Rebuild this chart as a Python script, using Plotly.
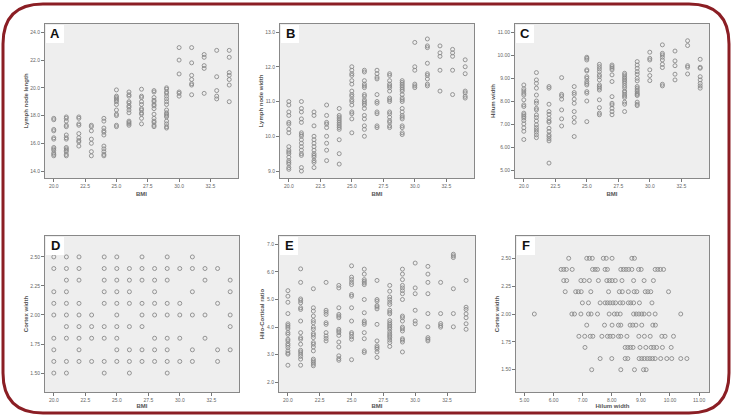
import plotly.graph_objects as go

# ---------------- data ----------------
bmi_levels = [20, 21, 22, 23, 24, 25, 26, 27, 28, 29, 30, 31, 32, 33, 34]

lymph_length = [
    [17.8, 17.7, 17.0, 16.9, 16.4, 16.3, 15.7, 15.6, 15.5, 15.3, 15.2, 15.1],
    [17.9, 17.8, 17.6, 17.3, 17.2, 16.6, 16.4, 16.3, 15.7, 15.6, 15.5, 15.4, 15.2, 15.1],
    [17.9, 17.8, 17.4, 17.3, 16.7, 16.4, 16.2, 16.1, 15.8],
    [17.3, 17.2, 16.9, 16.3, 16.0, 15.4, 15.1],
    [17.8, 17.6, 17.1, 16.9, 16.8, 16.6, 15.8, 15.6, 15.4, 15.2, 15.1],
    [19.85, 19.4, 19.3, 19.2, 19.1, 19.0, 18.8, 18.4, 18.1, 18.0, 17.3, 17.2],
    [19.7, 19.5, 19.4, 19.0, 18.9, 18.7, 18.6, 18.4, 18.2, 17.6, 17.5, 17.4, 17.3],
    [19.9, 19.4, 19.3, 19.0, 18.8, 18.5, 18.4, 18.2, 18.1, 17.8, 17.4],
    [19.8, 19.7, 19.3, 19.1, 19.0, 18.8, 18.7, 18.5, 18.1, 17.8, 17.6, 17.5, 17.3, 17.2],
    [20.0, 19.9, 19.7, 19.6, 19.4, 19.2, 19.0, 18.8, 18.4, 18.2, 18.1, 18.0, 17.9, 17.6, 17.4, 17.2, 17.1],
    [22.9, 22.0, 21.0, 19.7, 19.6, 19.4],
    [22.9, 21.8, 20.9, 20.6, 20.3, 20.2, 19.5],
    [22.4, 22.2, 21.6, 21.4, 19.6],
    [22.7, 20.8, 19.8, 19.4, 19.2],
    [22.7, 22.2, 21.1, 20.9, 20.6, 20.2, 19.0],
]

lymph_width = [
    [11.0, 10.9, 10.7, 10.6, 10.4, 10.35, 10.2, 10.1, 9.7, 9.6, 9.55, 9.5, 9.4, 9.3, 9.25, 9.2, 9.1, 9.05],
    [11.0, 10.8, 10.7, 10.5, 10.4, 10.1, 10.05, 10.0, 9.9, 9.8, 9.7, 9.6, 9.5, 9.45, 9.1, 9.0],
    [10.7, 10.6, 10.3, 10.0, 9.9, 9.8, 9.7, 9.6, 9.5, 9.45, 9.4, 9.3, 9.25, 9.1],
    [10.9, 10.6, 10.4, 10.35, 10.25, 10.0, 9.8, 9.6, 9.3],
    [10.8, 10.6, 10.55, 10.5, 10.45, 10.4, 10.35, 10.3, 10.25, 10.2, 9.9, 9.5, 9.2],
    [12.0, 11.9, 11.8, 11.75, 11.6, 11.5, 11.3, 11.2, 11.15, 11.05, 11.0, 10.9, 10.7, 10.65, 10.5, 10.1],
    [11.9, 11.85, 11.6, 11.5, 11.45, 11.4, 11.2, 11.15, 11.05, 11.0, 10.95, 10.9, 10.8, 10.6, 10.5, 10.3, 10.2, 10.0],
    [11.9, 11.8, 11.7, 11.65, 11.2, 11.0, 10.95, 10.7, 10.65, 10.3, 10.25],
    [11.8, 11.75, 11.6, 11.5, 11.45, 11.4, 11.3, 11.1, 11.05, 11.0, 10.7, 10.65, 10.55, 10.45, 10.4, 10.3, 10.25],
    [11.6, 11.55, 11.5, 11.45, 11.4, 11.35, 11.3, 11.2, 11.1, 11.05, 11.0, 10.8, 10.7, 10.6, 10.55, 10.5, 10.3, 10.25, 10.1, 10.05],
    [12.7, 12.0, 11.9, 11.5, 11.45, 11.4],
    [12.8, 12.6, 12.55, 12.1, 11.8, 11.75, 11.65, 11.5, 11.45],
    [12.6, 12.4, 12.3, 11.9, 11.3],
    [12.5, 12.4, 12.3, 11.9, 11.2],
    [12.2, 12.0, 11.8, 11.3, 11.25, 11.15, 11.1],
]

hilum_width = [
    [8.72, 8.55, 8.46, 8.36, 8.28, 8.07, 7.85, 7.78, 7.49, 7.42, 7.35, 7.28, 7.17, 7.02, 6.85, 6.7, 6.34],
    [9.26, 8.94, 8.79, 8.58, 8.28, 8.02, 7.92, 7.7, 7.63, 7.41, 7.3, 7.15, 6.98, 6.86, 6.76, 6.66, 6.54, 6.42],
    [8.65, 8.58, 7.88, 7.56, 7.44, 7.27, 7.15, 7.09, 6.83, 6.69, 6.54, 6.47, 6.37, 6.28, 5.31],
    [9.04, 8.31, 8.24, 8.1, 7.63, 7.24, 6.93],
    [8.65, 8.39, 8.31, 8.1, 7.92, 7.56, 7.3, 7.09, 6.47],
    [9.93, 9.88, 9.81, 9.38, 9.33, 9.08, 9.01, 8.87, 8.79, 8.72, 8.43, 8.36, 8.02, 7.12],
    [9.62, 9.52, 9.42, 9.3, 9.16, 9.08, 8.94, 8.72, 8.65, 8.58, 8.5, 8.07, 7.73, 7.49, 7.42],
    [9.59, 9.52, 9.45, 9.38, 9.16, 8.87, 8.21, 7.92, 7.85, 7.7, 7.56, 7.42],
    [9.23, 9.16, 9.08, 9.01, 8.94, 8.87, 8.79, 8.69, 8.6, 8.46, 8.4, 8.31, 8.24, 8.17, 7.97, 7.88, 7.56],
    [9.74, 9.59, 9.45, 9.3, 9.19, 9.01, 8.9, 8.65, 8.58, 8.5, 8.43, 8.36, 8.31, 8.26, 7.97, 7.88, 7.82],
    [10.15, 9.88, 9.81, 9.38, 9.13, 8.91],
    [10.47, 10.1, 10.03, 9.93, 9.81, 9.62, 9.48, 8.75, 8.68],
    [10.2, 9.77, 9.56, 9.19, 8.94],
    [10.65, 10.44, 9.56, 9.49, 9.2],
    [9.84, 9.49, 9.45, 9.08, 8.94, 8.79, 8.68, 8.58],
]

cortex_width = [
    [2.5, 2.4, 2.2, 2.1, 2.0, 1.8, 1.7, 1.6, 1.5],
    [2.5, 2.4, 2.3, 2.2, 2.1, 2.0, 1.9, 1.8, 1.6, 1.5],
    [2.5, 2.4, 2.3, 2.1, 2.0, 1.9, 1.8, 1.7, 1.6],
    [2.0, 1.9, 1.8, 1.6],
    [2.5, 2.4, 2.3, 2.2, 2.1, 1.9, 1.8, 1.6, 1.5],
    [2.5, 2.4, 2.3, 2.2, 2.1, 2.0, 1.9, 1.8, 1.7, 1.6],
    [2.4, 2.3, 2.2, 2.1, 1.9, 1.7, 1.6, 1.5],
    [2.5, 2.4, 2.3, 2.1, 2.0, 1.9, 1.7, 1.6],
    [2.4, 2.3, 2.2, 2.1, 2.0, 1.8, 1.7, 1.6],
    [2.5, 2.4, 2.3, 2.1, 2.0, 1.8, 1.7, 1.6, 1.5],
    [2.4, 2.1, 2.0, 1.8, 1.6],
    [2.5, 2.4, 2.2, 2.0, 1.7, 1.6],
    [2.4, 2.3, 2.0, 1.8],
    [2.4, 2.1, 1.7, 1.6],
    [2.3, 2.2, 2.0, 1.9, 1.7],
]

hilo_cortical = [
    [5.32, 5.12, 4.9, 4.49, 4.12, 4.06, 4.0, 3.94, 3.8, 3.74, 3.56, 3.5, 3.4, 3.34, 3.26, 3.14, 3.06, 3.02, 2.62],
    [6.11, 5.62, 5.02, 4.96, 4.88, 4.7, 4.64, 4.22, 3.8, 3.62, 3.56, 3.38, 3.16, 3.1, 3.02, 2.94, 2.84, 2.62],
    [5.39, 4.7, 4.58, 4.4, 4.24, 4.16, 4.0, 3.92, 3.77, 3.71, 3.62, 3.44, 3.38, 3.28, 3.14, 2.84, 2.78, 2.72, 2.66, 2.6],
    [5.62, 4.61, 4.54, 4.46, 4.16, 4.1, 3.8, 3.68, 3.59, 3.5],
    [5.51, 5.42, 4.7, 4.46, 4.4, 4.34, 3.92, 3.86, 3.8, 3.7, 3.46, 3.28, 2.96, 2.86, 2.8],
    [6.22, 5.81, 5.72, 5.62, 5.54, 5.18, 5.12, 4.7, 4.22, 3.8, 3.74, 3.65, 3.56, 2.82],
    [6.1, 5.92, 5.72, 5.66, 5.6, 5.54, 5.0, 4.52, 4.22, 4.16, 4.1, 3.8, 3.58, 3.14, 3.08],
    [5.69, 5.0, 4.94, 4.78, 4.73, 4.66, 4.1, 3.5, 3.32, 3.26, 3.2, 3.1, 2.9],
    [5.51, 5.3, 5.09, 5.0, 4.9, 4.82, 4.61, 4.54, 4.48, 4.24, 4.16, 4.1, 4.04, 3.98, 3.92, 3.82, 3.74, 3.68, 3.62, 3.53, 3.44, 3.3],
    [6.1, 5.92, 5.72, 5.51, 5.42, 5.32, 5.21, 5.0, 4.4, 4.34, 4.22, 4.0, 3.94, 3.86, 3.58, 3.53, 3.46, 3.1],
    [6.32, 5.42, 5.21, 4.61, 4.22, 4.12],
    [6.2, 5.92, 5.62, 5.21, 4.49, 4.01, 3.62, 3.56, 3.5],
    [5.62, 4.49, 4.13, 4.06, 4.0],
    [6.64, 6.58, 6.52, 5.39, 4.49, 4.01],
    [5.69, 4.72, 4.64, 4.48, 4.34, 4.12, 3.92],
]

# Panel F: cortex width rows and the hilum widths found on each row
f_cortex_levels = [2.5, 2.4, 2.3, 2.2, 2.1, 2.0, 1.9, 1.8, 1.7, 1.6, 1.5]
f_hilum = [
    [6.52, 7.14, 7.23, 7.33, 7.71, 7.81, 8.01, 8.69, 8.78],
    [6.26, 6.35, 6.44, 6.64, 7.34, 7.43, 7.51, 7.77, 7.85, 8.31, 8.4, 8.49, 8.58, 8.69, 8.92, 9.01, 9.49, 9.58, 9.67, 9.78],
    [6.35, 6.45, 6.94, 7.05, 7.23, 7.54, 7.83, 7.92, 8.01, 8.12, 8.35, 8.75, 9.11, 9.43],
    [6.4, 6.76, 6.85, 6.95, 7.28, 7.89, 8.26, 8.36, 8.57, 8.77, 8.86, 9.15, 9.24, 9.34, 9.95],
    [6.99, 7.2, 7.6, 7.77, 7.85, 7.94, 8.04, 8.13, 8.29, 8.38, 8.57, 8.65, 8.75, 8.95, 9.38],
    [5.34, 6.63, 6.72, 6.94, 7.2, 7.29, 7.51, 7.91, 8.09, 8.18, 8.29, 8.75, 8.84, 8.93, 9.03, 9.11, 9.28, 9.49, 10.37],
    [7.14, 7.75, 8.01, 8.23, 8.31, 8.63, 8.72, 8.83, 9.03, 9.41, 9.5],
    [6.87, 7.07, 7.26, 7.35, 7.66, 7.85, 7.94, 8.04, 8.23, 8.31, 8.52, 8.93, 9.12, 9.32, 9.72, 9.83, 10.12],
    [7.08, 8.46, 8.55, 8.64, 8.73, 8.97, 9.17, 9.35, 9.44, 9.54, 9.74, 10.04],
    [7.6, 8.0, 8.46, 8.55, 8.94, 9.03, 9.12, 9.22, 9.31, 9.4, 9.49, 9.68, 9.89, 10.06, 10.37, 10.58],
    [7.31, 8.31, 8.78, 9.09, 9.18],
]

bmi_ticks = [20.0, 22.5, 25.0, 27.5, 30.0, 32.5]
hilum_ticks = [5, 6, 7, 8, 9, 10, 11]
cortex_ticks = [1.50, 1.75, 2.00, 2.25, 2.50]

# ---------------- figure ----------------
W, H = 734, 418


def flat_by_level(levels, groups):
    xs, ys = [], []
    for lv, grp in zip(levels, groups):
        for v in grp:
            xs.append(lv)
            ys.append(v)
    return xs, ys


def flat_rows(levels, groups):
    xs, ys = [], []
    for lv, grp in zip(levels, groups):
        for v in grp:
            xs.append(v)
            ys.append(lv)
    return xs, ys


panels = [
    ("A", *flat_by_level(bmi_levels, lymph_length), (45, 238, 24, 178), [19.3, 34.7], [13.5, 24.6],
     bmi_ticks, [14, 16, 18, 20, 22, 24], ".1f", ".1f", "BMI", "Lymph node length"),
    ("B", *flat_by_level(bmi_levels, lymph_width), (280, 474, 24, 178), [19.3, 34.7], [8.8, 13.23],
     bmi_ticks, [9, 10, 11, 12, 13], ".1f", ".1f", "BMI", "Lymph node width"),
    ("C", *flat_by_level(bmi_levels, hilum_width), (515, 709, 24, 178), [19.3, 34.7], [4.66, 11.38],
     bmi_ticks, [5, 6, 7, 8, 9, 10, 11], ".1f", ".2f", "BMI", "Hilum width"),
    ("D", *flat_by_level(bmi_levels, cortex_width), (45, 239, 236, 392), [19.3, 34.7], [1.337, 2.68],
     bmi_ticks, cortex_ticks, ".1f", ".2f", "BMI", "Cortex width"),
    ("E", *flat_by_level(bmi_levels, hilo_cortical), (279, 475, 236, 392), [19.3, 34.7], [1.65, 7.3],
     bmi_ticks, [2, 3, 4, 5, 6, 7], ".1f", ".1f", "BMI", "Hilo-Cortical ratio"),
    ("F", *flat_rows(f_cortex_levels, f_hilum), (516, 709, 236, 392), [4.71, 11.34], [1.30, 2.70],
     hilum_ticks, cortex_ticks, ".2f", ".2f", "Hilum width", "Cortex width"),
]

fig = go.Figure()
layout = dict(
    width=W, height=H,
    margin=dict(l=0, r=0, t=0, b=0),
    paper_bgcolor="white",
    plot_bgcolor="#EEEEEE",
    showlegend=False,
    font=dict(family="Liberation Sans, Arial, sans-serif", color="#333"),
)
annotations = []
shapes = []

for i, (letter, xs, ys, box, xr, yr, xt, yt, xf, yf, xtitle, ytitle) in enumerate(panels):
    n = "" if i == 0 else str(i + 1)
    l, r, t, b = box
    xdom = [l / W, r / W]
    ydom = [1 - b / H, 1 - t / H]
    fig.add_trace(go.Scatter(
        x=xs, y=ys, mode="markers",
        xaxis="x" + n, yaxis="y" + n,
        marker=dict(symbol="circle-open", size=4, color="#8A8A8A",
                    line=dict(width=0.9, color="#8A8A8A")),
        hoverinfo="x+y",
    ))
    axis_common = dict(
        showgrid=False, zeroline=False, showline=True, linecolor="#888", linewidth=1,
        mirror=True, ticks="outside", ticklen=3, tickcolor="#777", tickwidth=1,
        tickfont=dict(size=5, color="#666"),
    )
    layout["xaxis" + n] = dict(
        domain=xdom, range=xr, tickvals=xt, tickformat=xf, anchor="y" + n,
        title=dict(text="<b>" + xtitle + "</b>", font=dict(size=6, color="#555"),
                   standoff=3 if i < 3 else 1),
        **axis_common,
    )
    layout["yaxis" + n] = dict(
        domain=ydom, range=yr, tickvals=yt, tickformat=yf, anchor="x" + n,
        title=dict(text="<b>" + ytitle + "</b>", font=dict(size=6, color="#555"), standoff=1),
        **axis_common,
    )
    shapes.append(dict(type="rect", xref="paper", yref="paper",
                       x0=(l + 1) / W, x1=(l + 19) / W, y0=1 - (t + 19) / H, y1=1 - (t + 1) / H,
                       fillcolor="white", line=dict(width=0), layer="above"))
    annotations.append(dict(text="<b>" + letter + "</b>", xref="paper", yref="paper",
                            x=(l + 10) / W, y=1 - (t + 10) / H, xanchor="center", yanchor="middle",
                            showarrow=False, font=dict(size=13, color="#111",
                                                       family="Liberation Sans, Arial, sans-serif")))

# rounded maroon frame
x0, x1, y0, y1 = 3 / W, 729 / W, 1 - 413 / H, 1 - 4 / H
rx, ry = 40 / W, 40 / H
path = (f"M {x0 + rx},{y1} L {x1 - rx},{y1} Q {x1},{y1} {x1},{y1 - ry} "
        f"L {x1},{y0 + ry} Q {x1},{y0} {x1 - rx},{y0} "
        f"L {x0 + rx},{y0} Q {x0},{y0} {x0},{y0 + ry} "
        f"L {x0},{y1 - ry} Q {x0},{y1} {x0 + rx},{y1} Z")
shapes.append(dict(type="path", path=path, xref="paper", yref="paper",
                   line=dict(color="#8B1E24", width=3), fillcolor="rgba(0,0,0,0)", layer="below"))

layout["annotations"] = annotations
layout["shapes"] = shapes
fig.update_layout(**layout)
fig.write_html("out.html",
               config={"displayModeBar": False},
               post_script="document.body.style.margin='0';document.body.style.overflow='hidden';")
